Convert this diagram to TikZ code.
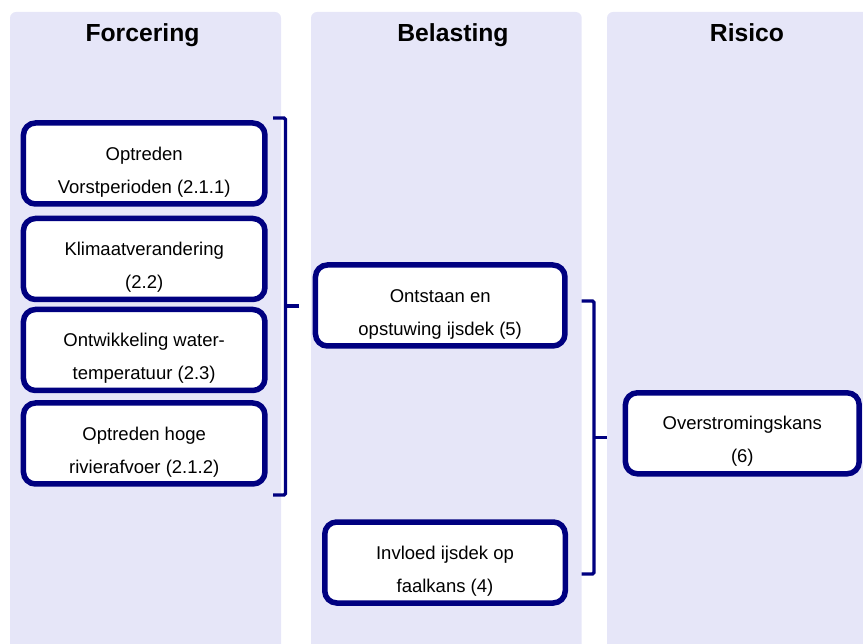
\documentclass[tikz,border=0pt]{standalone}
\usepackage{fontspec}
\setmainfont{Liberation Sans}
\definecolor{colbg}{RGB}{230,230,248}
\definecolor{boxline}{RGB}{0,0,128}
\tikzset{
  stepbox/.style={draw=boxline, line width=5.5pt, fill=white, rounded corners=12pt,
    minimum width=241.5pt, minimum height=81pt, inner sep=0pt, align=center,
    font=\fontsize{18.5}{33}\selectfont},
  header/.style={anchor=base, font=\fontsize{24.7}{30}\selectfont\bfseries},
  bracket/.style={draw=boxline, line width=3.2pt, rounded corners=1.5pt}
}
\newcommand{\firstline}{\rule{0pt}{30pt}}

\begin{document}
\begin{tikzpicture}[x=1pt,y=-1pt]
    \useasboundingbox (0,0) rectangle (863,644);
    %columns
    \begin{scope}
      \clip (0,0) rectangle (863,644);
      \foreach \xa/\xb in {10/281, 311/581.7, 607/877}
        \fill[colbg, rounded corners=6pt] (\xa,12) rectangle (\xb,660);
    \end{scope}
    \node[header] (forcering) at (142.5,41.5) {Forcering};
    \node[header] (belasting) at (453,41.5) {Belasting};
    \node[header] (risico) at (747,41.5) {Risico};

    %forcering
    \node[stepbox] (vorst) at (144.2,163.5) {\firstline Optreden\\Vorstperioden (2.1.1)};
    \node[stepbox] (klimaat) at (144.2,259) {\firstline Klimaatverandering\\(2.2)};
    \node[stepbox] (watertemp) at (144.2,350) {\firstline Ontwikkeling water-\\temperatuur (2.3)};
    \node[stepbox] (afvoer) at (144.2,443.5) {\firstline Optreden hoge\\rivierafvoer (2.1.2)};
    %belasting
    \node[stepbox, minimum width=249.5pt] (ijsdek) at (440.2,305.5)
      {\firstline Ontstaan en\\opstuwing ijsdek (5)};
    \node[stepbox, minimum width=240.5pt] (faalkans) at (445,562.5)
      {\firstline Invloed ijsdek op\\faalkans (4)};
    %risico
    \node[stepbox, minimum width=233.8pt] (overstroming) at (742.3,433.3)
      {\firstline Overstromingskans\\(6)};

    %brackets
    \coordinate (br1top) at (273,118);
    \coordinate (br1bot) at (273,495);
    \coordinate (br1tip) at (299,306);
    \draw[bracket] (br1top) -- ++(12.5,0) -- ++(0,377) -- (br1bot);
    \draw[bracket] (br1tip) -- ++(-13.5,0);

    \coordinate (br2top) at (581.7,301);
    \coordinate (br2bot) at (581.7,574);
    \coordinate (br2tip) at (607,437.5);
    \draw[bracket] (br2top) -- ++(12.3,0) -- ++(0,273) -- (br2bot);
    \draw[bracket] (br2tip) -- ++(-13,0);
\end{tikzpicture}
\end{document}
